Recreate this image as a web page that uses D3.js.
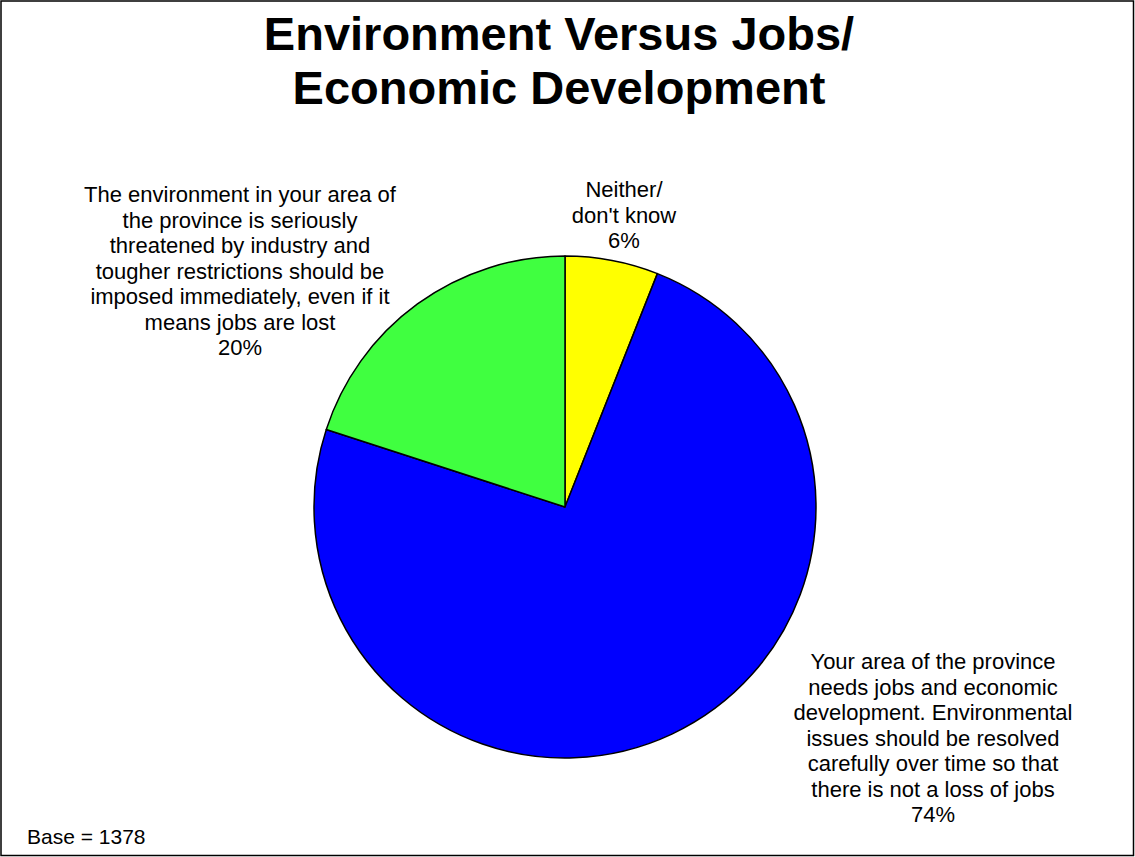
<!DOCTYPE html>
<html>
<head>
<meta charset="utf-8">
<script src="https://cdn.jsdelivr.net/npm/d3@7"></script>
<style>
  html, body { margin: 0; padding: 0; background: #fff; }
  svg { display: block; }
  text { font-family: "Liberation Sans", Arial, sans-serif; fill: #000; }
</style>
</head>
<body>
<svg id="chart" width="1135" height="857"></svg>
<script>
// ---- data ----
const titleLines = ["Environment Versus Jobs/", "Economic Development"];
const categories = [
  "Neither/ don't know",
  "Your area of the province needs jobs and economic development. Environmental issues should be resolved carefully over time so that there is not a loss of jobs",
  "The environment in your area of the province is seriously threatened by industry and tougher restrictions should be imposed immediately, even if it means jobs are lost"
];
const values = [6, 74, 20];
const labelLines = [
  ["Neither/", "don't know"],
  ["Your area of the province", "needs jobs and economic", "development. Environmental", "issues should be resolved", "carefully over time so that", "there is not a loss of jobs"],
  ["The environment in your area of", "the province is seriously", "threatened by industry and", "tougher restrictions should be", "imposed immediately, even if it", "means jobs are lost"]
];
const baseNote = "Base = 1378";

// ---- styles / layout ----
const colors = ["#FFFF00", "#0000FF", "#40FF40"];
const W = 1135, H = 857;
const cx = 565, cy = 507, R = 251;
const labelAnchors = [[624, 197], [933, 669], [240, 202]]; // centre x, first baseline
const lineH = 25.5;

const svg = d3.select("#chart");

svg.append("rect")
  .attr("x", 1).attr("y", 1).attr("width", W - 2.5).attr("height", H - 2.5)
  .attr("fill", "#fff").attr("stroke", "#000").attr("stroke-width", 1.5);

// title
const title = svg.append("text")
  .attr("text-anchor", "middle")
  .style("font-size", "47px").style("font-weight", "bold");
titleLines.forEach((t, i) => {
  title.append("tspan").attr("x", 559).attr("y", 50 + i * 54).text(t);
});

// pie
const color = d3.scaleOrdinal().domain(categories).range(colors);
const pie = d3.pie().sort(null).value(d => d.value);
const arcs = pie(categories.map((c, i) => ({ cat: c, value: values[i], lines: labelLines[i] })));
const arc = d3.arc().innerRadius(0).outerRadius(R);

const g = svg.append("g").attr("transform", `translate(${cx},${cy})`);
g.selectAll("path").data(arcs).enter().append("path")
  .attr("d", arc)
  .attr("fill", d => color(d.data.cat))
  .attr("stroke", "#000")
  .attr("stroke-width", 1.5)
  .attr("stroke-linejoin", "round");

// labels
arcs.forEach((d, i) => {
  const [ax, ay] = labelAnchors[i];
  const t = svg.append("text").attr("text-anchor", "middle").style("font-size", "22px");
  const lines = d.data.lines.concat([d.data.value + "%"]);
  lines.forEach((ln, j) => {
    t.append("tspan").attr("x", ax).attr("y", ay + j * lineH).text(ln);
  });
});

svg.append("text").attr("x", 27).attr("y", 844)
  .style("font-size", "21px").text(baseNote);
</script>
</body>
</html>
